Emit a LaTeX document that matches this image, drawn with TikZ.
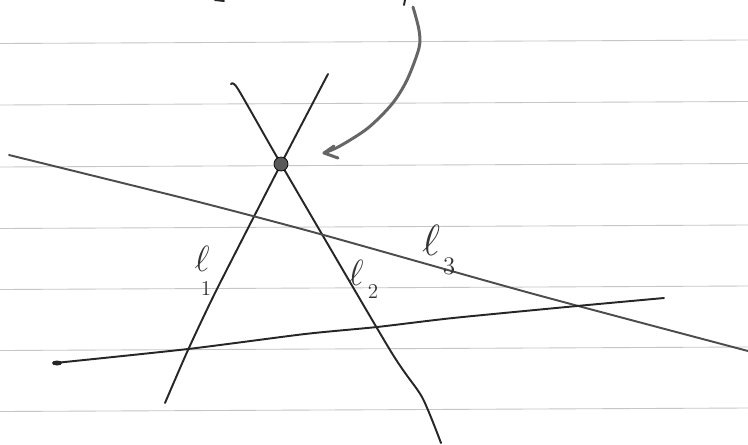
\documentclass[tikz,border=0pt]{standalone}
\begin{document}
\begin{tikzpicture}[x=0.02cm,y=-0.02cm,
  rule/.style={gray!45, line width=0.5pt},
  pen/.style={black!85, line width=1.1pt, line cap=round, line join=round},
  greypen/.style={black!60, line width=1.7pt, line cap=round, line join=round},
  ell/.style={inner sep=0pt, text=black!80},
  sub/.style={inner sep=0pt, text=black!80}]
\useasboundingbox (0,0) rectangle (748,444);
\fill[white] (0,0) rectangle (748,444);
% ruled paper
\foreach \y in {43.5,105,167,228.5,289.5,350.5,411.5}
  \draw[rule] (0,\y) -- (748,{\y-3.5});
% line l1
\draw[pen] plot[smooth, tension=0.4] coordinates {(328,74) (281,164) (217,289) (188,350) (165,403)};
% line l2
\draw[pen] plot[smooth, tension=0.4] coordinates {(231,84) (238,89) (281,164) (390,350) (422,397) (441,443)};
% line l3
\draw[pen, black!70] plot[smooth, tension=0.4] coordinates {(9,155) (191,200) (320,234) (530,293) (748,351)};
% unlabelled line
\draw[pen] plot[smooth, tension=0.4] coordinates {(55,363) (188,349) (305,334) (377,327) (453,318) (577,306) (664,298)};
\fill[black!85] (57,363) ellipse (5 and 2.5);
% intersection point
\node[circle, draw=black, fill=black!65, minimum size=0.28cm, inner sep=0pt] (p) at (281,164) {};
% arrow from above
\coordinate (tip) at (324,153);
\draw[greypen] plot[smooth, tension=0.5] coordinates {(413,7) (419,30) (419,48) (407,80) (392,104) (368,128) (340,146) (324,153)};
\draw[greypen] (334,146) -- (tip) -- (338,158);
% cropped marks at top
\draw[pen] (405,0) -- (404,5);
\draw[pen] (215,0) -- (224,1);
% labels
\node[ell, font=\fontsize{20}{24}\selectfont] (l1) at (202,259) {$\ell$};
\node[sub, font=\fontsize{12}{14}\selectfont] (l1s) at (206,289) {$1$};
\node[ell, font=\fontsize{20}{24}\selectfont] (l2) at (356,273) {$\ell$};
\node[sub, font=\fontsize{12}{14}\selectfont] (l2s) at (373,292) {$2$};
\node[ell, font=\fontsize{30}{34}\selectfont] (l3) at (431,240) {$\ell$};
\node[sub, font=\fontsize{15}{18}\selectfont] (l3s) at (449,266) {$3$};
\end{tikzpicture}
\end{document}
